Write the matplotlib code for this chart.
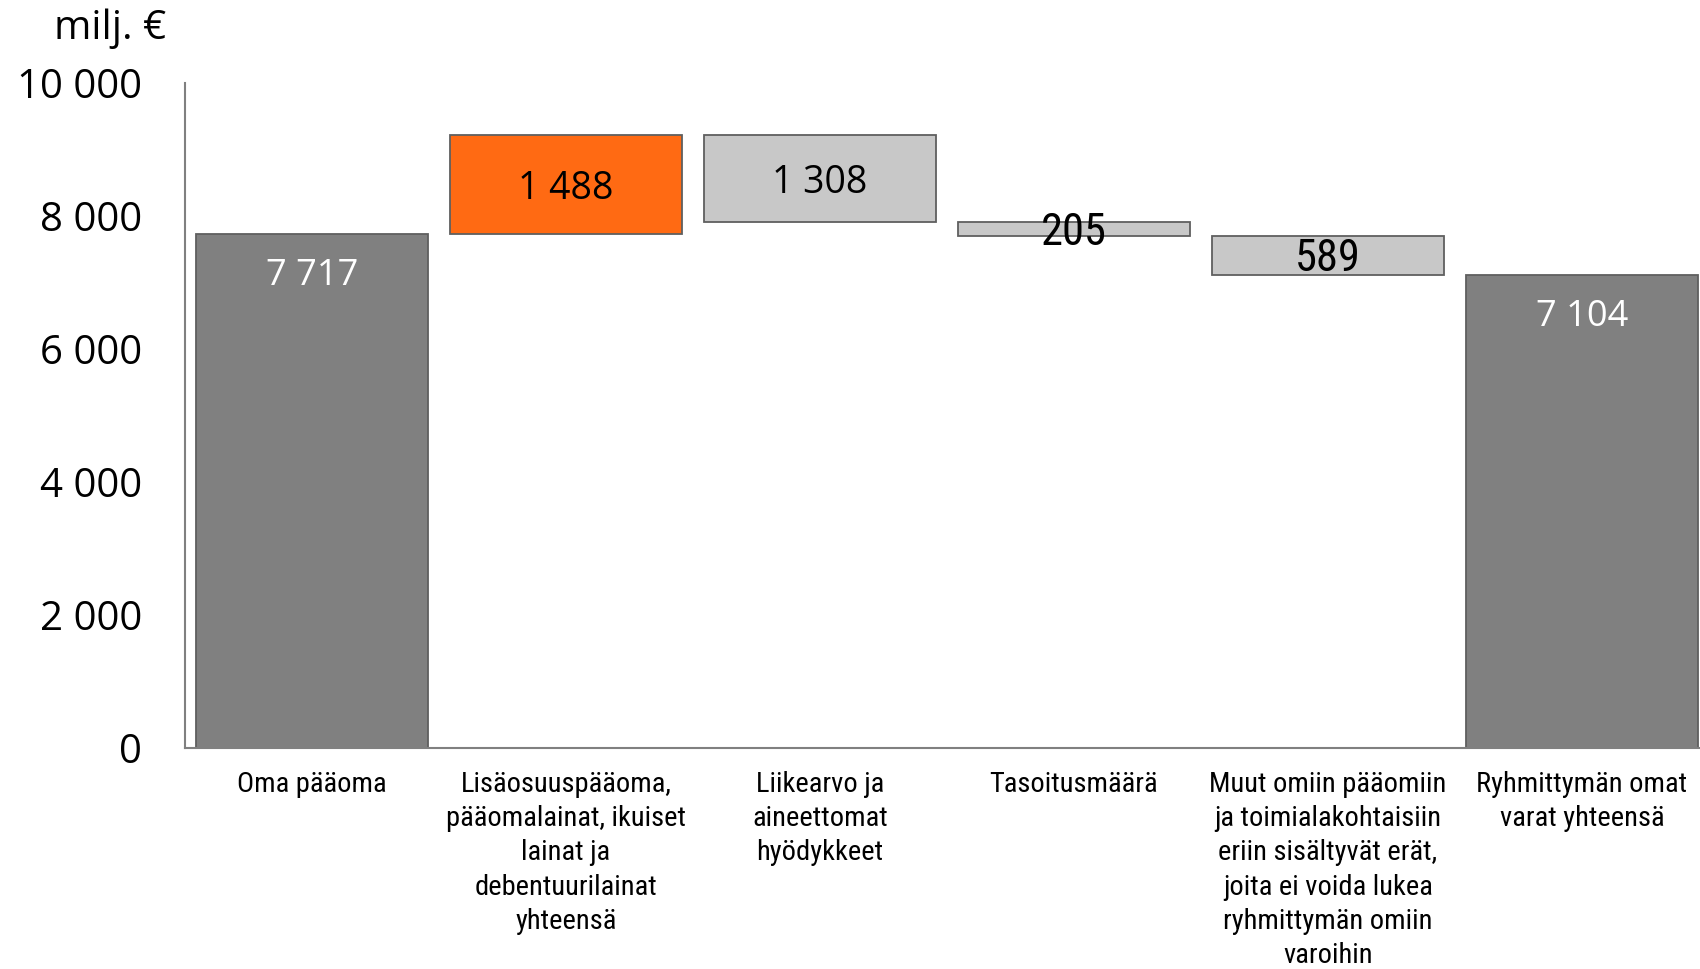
import matplotlib
matplotlib.use("Agg")
import matplotlib.pyplot as plt
from matplotlib import font_manager as fm
from matplotlib.font_manager import FontProperties

categories = [
    "Oma pääoma",
    "Lisäosuuspääoma,\npääomalainat, ikuiset\nlainat ja\ndebentuurilainat\nyhteensä",
    "Liikearvo ja\naineettomat\nhyödykkeet",
    "Tasoitusmäärä",
    "Muut omiin pääomiin\nja toimialakohtaisiin\neriin sisältyvät erät,\njoita ei voida lukea\nryhmittymän omiin\nvaroihin",
    "Ryhmittymän omat\nvarat yhteensä",
]
changes = [7717, 1488, -1308, -205, -589, 7104]
kinds = ["total", "up", "down", "down", "down", "total"]
labels = ["7 717", "1 488", "1 308", "205", "589", "7 104"]
yticks = [0, 2000, 4000, 6000, 8000, 10000]
yticklabels = ["0", "2 000", "4 000", "6 000", "8 000", "10 000"]


def find_narrow():
    prefs = ["Liberation Sans Narrow", "DejaVu Sans Condensed", "Roboto Condensed",
             "Open Sans Condensed", "Noto Sans Condensed"]
    entries = fm.fontManager.ttflist
    for p in prefs:
        for f in entries:
            if f.name == p and f.style == "normal" and str(f.weight) in ("400", "normal", "regular"):
                return f.fname
    for f in entries:
        st = str(f.stretch)
        if f.style == "normal" and str(f.weight) in ("400", "normal", "regular") and \
                (st in ("condensed", "semi-condensed") or "Condensed" in f.fname or "Narrow" in f.fname) \
                and "Bold" not in f.fname and "Oblique" not in f.fname and "Italic" not in f.fname:
            return f.fname
    return None


nf = find_narrow()


def narrow_fp(size):
    if nf:
        return FontProperties(fname=nf, size=size)
    return FontProperties(family="Lato", size=size)


main_font = "Open Sans"

W, H = 1700, 969
fig = plt.figure(figsize=(W / 100, H / 100), dpi=100)
ax_left, ax_right = 185, 1709
ax_top, ax_bot = 82.5, 747.5
ax = fig.add_axes([ax_left / W, 1 - ax_bot / H, (ax_right - ax_left) / W, (ax_bot - ax_top) / H])

colors = {"total": "#808080", "up": "#FF6A13", "down": "#C8C8C8"}
running = 0
bottoms, heights = [], []
for ch, k in zip(changes, kinds):
    if k == "total":
        b, h = 0, ch
        running = ch
    elif k == "up":
        b, h = running, ch
        running += ch
    else:
        b, h = running + ch, -ch
        running += ch
    bottoms.append(b)
    heights.append(h)

x = list(range(len(categories)))
ax.bar(x, heights, bottom=bottoms, width=0.915,
       color=[colors[k] for k in kinds], edgecolor="#5f5f5f", linewidth=1.3, zorder=2)

for i, (b, h, k, lab) in enumerate(zip(bottoms, heights, kinds, labels)):
    if k == "total":
        ax.annotate(lab, (i, b + h), xytext=(0, -30), textcoords="offset points",
                    ha="center", va="center", color="white", fontsize=26, family=main_font)
    elif h > 1000:
        ax.annotate(lab, (i, b + h / 2), xytext=(0, -3), textcoords="offset points",
                    ha="center", va="center", color="black",
                    fontsize=27, family=main_font, zorder=3)
    else:
        ax.annotate(lab, (i, b + h / 2), xytext=(0, -2.5), textcoords="offset points",
                    ha="center", va="center", color="black",
                    fontproperties=narrow_fp(32), zorder=3)

ax.set_xlim(-0.5, len(categories) - 0.5)
ax.set_ylim(0, 10000)
ax.set_yticks(yticks)
ax.set_yticklabels(yticklabels, fontsize=29, family=main_font)
ax.set_xticks(x)
ax.set_xticklabels(categories, fontproperties=narrow_fp(20.5), linespacing=1.34, va="top")
ax.tick_params(axis="y", length=0, pad=31)
ax.tick_params(axis="x", length=0, pad=17)
for s in ["top", "right"]:
    ax.spines[s].set_visible(False)
for s in ["left", "bottom"]:
    ax.spines[s].set_color("#808080")
    ax.spines[s].set_linewidth(1.5)

fig.text(166 / W, 1 - 29 / H, "milj. €", ha="right", va="center", fontsize=29, family=main_font)

fig.savefig("out.png", dpi=100)
